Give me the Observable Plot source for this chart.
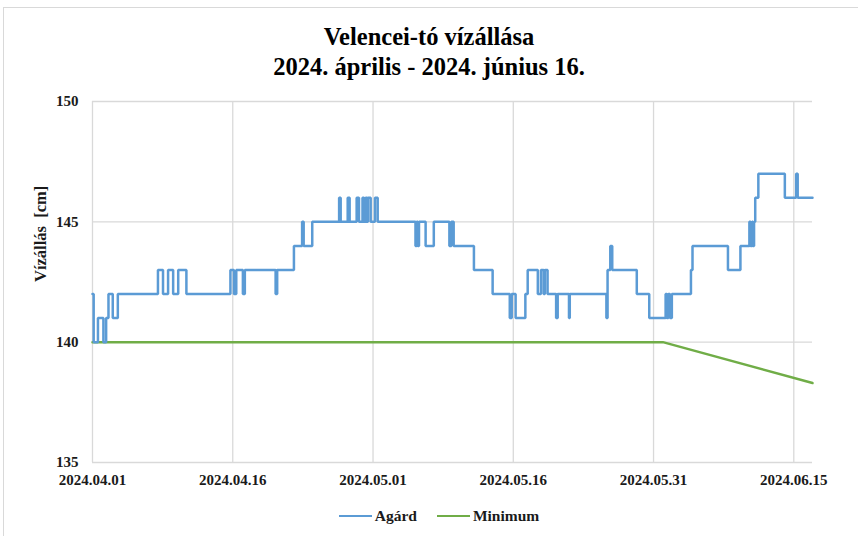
<!DOCTYPE html>
<html>
<head>
<meta charset="utf-8">
<script src="https://cdn.jsdelivr.net/npm/d3@7"></script>
<script src="https://cdn.jsdelivr.net/npm/@observablehq/plot@0.6"></script>
<style>
  html, body { margin: 0; padding: 0; background: #fff; }
  #wrap { position: relative; width: 858px; height: 536px; overflow: hidden; font-family: "Liberation Serif", "Times New Roman", serif; }
  #frame { position: absolute; left: 3px; top: 7px; width: 900px; height: 600px; border-left: 1px solid #d9d9d9; border-top: 1px solid #d9d9d9; }
  #title { position: absolute; left: 0; width: 858px; top: 22px; text-align: center; font-weight: bold; font-size: 24.5px; line-height: 30px; color: #000; }
  #legend { position: absolute; left: 10px; width: 858px; top: 507px; text-align: center; font-weight: bold; font-size: 15.5px; color: #1a1a1a; }
  #legend span.item { display: inline-block; margin: 0 10px; }
  #legend span.sw { display: inline-block; width: 33px; height: 0; border-top: 2.5px solid; vertical-align: middle; margin-right: 3px; position: relative; top: -1px; }
  #chart { position: absolute; left: 0; top: 0; }
</style>
</head>
<body>
<div id="wrap">
  <div id="frame"></div>
  <div id="chart"></div>
  <div id="title">Velencei-tó vízállása<br>2024. április - 2024. június 16.</div>
  <div id="legend"></div>
</div>
<script>
// Agárd water level change points (time "YYYY-MM-DD HH", level in cm)
const agardTimes = [
  "2024-04-01 00","2024-04-01 03","2024-04-01 14","2024-04-02 04","2024-04-02 11","2024-04-02 17",
  "2024-04-03 04","2024-04-03 17","2024-04-08 00","2024-04-08 13","2024-04-09 02","2024-04-09 15",
  "2024-04-10 04","2024-04-11 01","2024-04-15 18","2024-04-16 03","2024-04-16 09","2024-04-17 02",
  "2024-04-17 07","2024-04-20 14","2024-04-20 18","2024-04-22 13","2024-04-23 10","2024-04-23 14",
  "2024-04-24 12","2024-04-27 09","2024-04-27 13","2024-04-28 07","2024-04-28 12","2024-04-29 06",
  "2024-04-29 12","2024-04-29 21","2024-04-30 01","2024-04-30 05","2024-04-30 09","2024-04-30 11",
  "2024-04-30 18","2024-05-01 05","2024-05-01 12","2024-05-05 13","2024-05-05 16","2024-05-05 19",
  "2024-05-05 22","2024-05-06 15","2024-05-07 12","2024-05-09 04","2024-05-09 09","2024-05-09 15",
  "2024-05-11 19","2024-05-13 19","2024-05-15 15","2024-05-15 20","2024-05-16 06","2024-05-17 07",
  "2024-05-17 13","2024-05-18 15","2024-05-18 23","2024-05-19 06","2024-05-19 09","2024-05-19 16",
  "2024-05-20 14","2024-05-20 18","2024-05-21 23","2024-05-22 01","2024-05-25 23","2024-05-26 02",
  "2024-05-26 09","2024-05-26 14","2024-05-29 05","2024-05-30 13","2024-06-01 07","2024-06-01 10",
  "2024-06-01 14","2024-06-01 18","2024-06-01 23","2024-06-04 00","2024-06-04 04","2024-06-07 23",
  "2024-06-09 07","2024-06-10 06","2024-06-10 09","2024-06-10 13","2024-06-10 15","2024-06-10 18",
  "2024-06-10 21","2024-06-11 05","2024-06-14 01","2024-06-15 06","2024-06-15 10","2024-06-17 00"
];
const agardLevels = [
  142,140,141,140,141,142,
  141,142,143,142,143,142,
  143,142,143,142,143,142,
  143,142,143,144,145,144,
  145,146,145,146,145,146,
  145,146,145,146,145,146,
  145,146,145,144,145,144,
  145,144,145,144,145,144,
  143,142,141,142,141,142,
  143,142,143,142,143,142,
  141,142,141,142,141,143,
  144,143,142,141,142,141,
  142,141,142,143,144,143,
  144,145,144,145,144,145,
  146,147,146,147,146,146
];
// Minimum level
const minTimes = ["2024-04-01 00", "2024-06-01 00", "2024-06-17 00"];
const minLevels = [140, 140, 138.3];

const yTicks = [135, 140, 145, 150];
const xTickLabels = ["2024.04.01","2024.04.16","2024.05.01","2024.05.16","2024.05.31","2024.06.15"];
const seriesNames = ["Agárd", "Minimum"];
const seriesColors = ["#5b9bd5", "#70ad47"];
const yLabel = "Vízállás  [cm]";

const parse = d3.utcParse("%Y-%m-%d %H");
const parseTick = d3.utcParse("%Y.%m.%d");
const agard = agardTimes.map((t, i) => ({date: parse(t), value: agardLevels[i]}));
const minimum = minTimes.map((t, i) => ({date: parse(t), value: minLevels[i]}));
const xTicks = xTickLabels.map(parseTick);

const font = {fontFamily: "Liberation Serif, Times New Roman, serif", fontWeight: "bold", fontSize: "15px", color: "#1a1a1a", background: "transparent", whiteSpace: "pre"};

const plot = Plot.plot({
  width: 858,
  height: 536,
  marginLeft: 92,
  marginRight: 46,
  marginTop: 101,
  marginBottom: 74,
  style: font,
  x: {type: "utc", domain: [parse("2024-04-01 00"), parse("2024-06-17 00")]},
  y: {domain: [135, 150]},
  marks: [
    Plot.gridX(xTicks, {stroke: "#d9d9d9", strokeOpacity: 1, strokeWidth: 1.3}),
    Plot.gridY(yTicks, {stroke: "#d9d9d9", strokeOpacity: 1, strokeWidth: 1.3}),
    Plot.axisX(xTicks, {tickSize: 0, tickPadding: 12, tickFormat: d3.utcFormat("%Y.%m.%d"), label: null, fontSize: 15}),
    Plot.axisY(yTicks, {tickSize: 0, tickPadding: 14, label: null, fontSize: 15}),
    Plot.text([yLabel], {frameAnchor: "left", dx: -52, rotate: -90, fontSize: 16.5, fontWeight: "bold", fill: "#1a1a1a"}),
    Plot.line(minimum, {x: "date", y: "value", stroke: seriesColors[1], strokeWidth: 2.5}),
    Plot.line(agard, {x: "date", y: "value", stroke: seriesColors[0], strokeWidth: 2.5, curve: "step-after", strokeLinejoin: "miter"})
  ]
});
document.getElementById("chart").appendChild(plot);

const leg = document.getElementById("legend");
leg.innerHTML = seriesNames.map((n, i) =>
  `<span class="item"><span class="sw" style="border-color:${seriesColors[i]}"></span>${n}</span>`).join("");
</script>
</body>
</html>
